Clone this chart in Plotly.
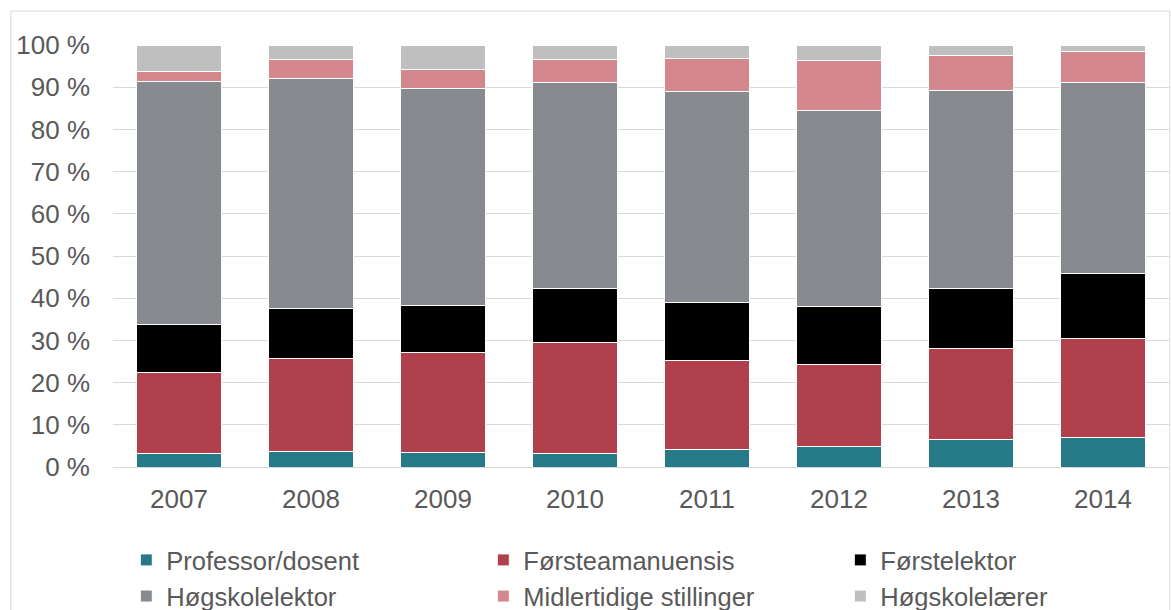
import plotly.graph_objects as go

years = ["2007", "2008", "2009", "2010", "2011", "2012", "2013", "2014"]
professor = [3.2, 3.7, 3.4, 3.1, 4.1, 4.9, 6.4, 7.0]
forsteamanuensis = [19.2, 22.0, 23.8, 26.3, 21.2, 19.3, 21.8, 23.5]
forstelektor = [11.3, 11.8, 11.0, 13.0, 13.8, 13.9, 14.2, 15.3]
hogskolelektor = [57.7, 54.5, 51.4, 48.7, 50.0, 46.3, 46.8, 45.2]
midlertidige = [2.3, 4.6, 4.6, 5.5, 7.6, 11.9, 8.2, 7.5]
hogskolelaerer = [6.3, 3.4, 5.8, 3.4, 3.3, 3.7, 2.6, 1.5]

series = [
    ("Professor/dosent", professor, "#267A87", "legend"),
    ("Førsteamanuensis", forsteamanuensis, "#B0404C", "legend2"),
    ("Førstelektor", forstelektor, "#000000", "legend3"),
    ("Høgskolelektor", hogskolelektor, "#878B8F", "legend"),
    ("Midlertidige stillinger", midlertidige, "#D4888E", "legend2"),
    ("Høgskolelærer", hogskolelaerer, "#BFBFBF", "legend3"),
]

yticks = list(range(0, 101, 10))
yticktext = [f"{v} %" for v in yticks]

FONT = "Liberation Sans, Arial, sans-serif"
TXT = "#595959"

fig = go.Figure()
for name, vals, color, lg in series:
    fig.add_trace(go.Bar(
        x=years, y=vals, name=name, legend=lg,
        marker=dict(color=color, line=dict(color="#FFFFFF", width=1)),
    ))

W, H = 1171, 610
L, R, T, B = 112.7, 2.3, 44.5, 142.5
pw = W - L - R
ph = H - T - B

def px(xpix):
    return (xpix - L) / pw

def py(ypix):
    return (H - B - ypix) / ph

leg_common = dict(
    orientation="v", traceorder="normal", xanchor="left", yanchor="top",
    font=dict(family=FONT, size=25.5, color=TXT), bgcolor="rgba(0,0,0,0)",
    itemclick=False, itemdoubleclick=False,
)
leg_top = py(537.5)
fig.update_layout(
    width=W, height=H,
    margin=dict(l=L, r=R, t=T, b=B, pad=0, autoexpand=False),
    barmode="stack", bargap=0.35,
    plot_bgcolor="white", paper_bgcolor="white",
    font=dict(family=FONT, size=26, color=TXT),
    legend=dict(x=px(126), y=leg_top, **leg_common),
    legend2=dict(x=px(483), y=leg_top, **leg_common),
    legend3=dict(x=px(840), y=leg_top, **leg_common),
    xaxis=dict(
        type="category", showgrid=False, showline=False, ticks="",
        ticklabelstandoff=14,
        tickfont=dict(family=FONT, size=26, color=TXT),
    ),
    yaxis=dict(
        range=[0, 100], tickvals=yticks, ticktext=yticktext,
        showgrid=True, gridcolor="#D9D9D9", gridwidth=1,
        zeroline=True, zerolinecolor="#D9D9D9", zerolinewidth=1,
        showline=False, ticks="", ticklabelstandoff=22,
        tickfont=dict(family=FONT, size=26, color=TXT),
    ),
    shapes=[dict(
        type="rect", xref="paper", yref="paper",
        x0=px(10.5), x1=px(1169.5), y0=py(640), y1=py(10.5),
        line=dict(color="#D9D9D9", width=1), fillcolor="rgba(0,0,0,0)",
        layer="below",
    )],
)

fig.write_html(
    "out.html",
    config={"displayModeBar": False},
    post_script="document.body.style.margin='0';document.body.style.overflow='hidden';",
)
